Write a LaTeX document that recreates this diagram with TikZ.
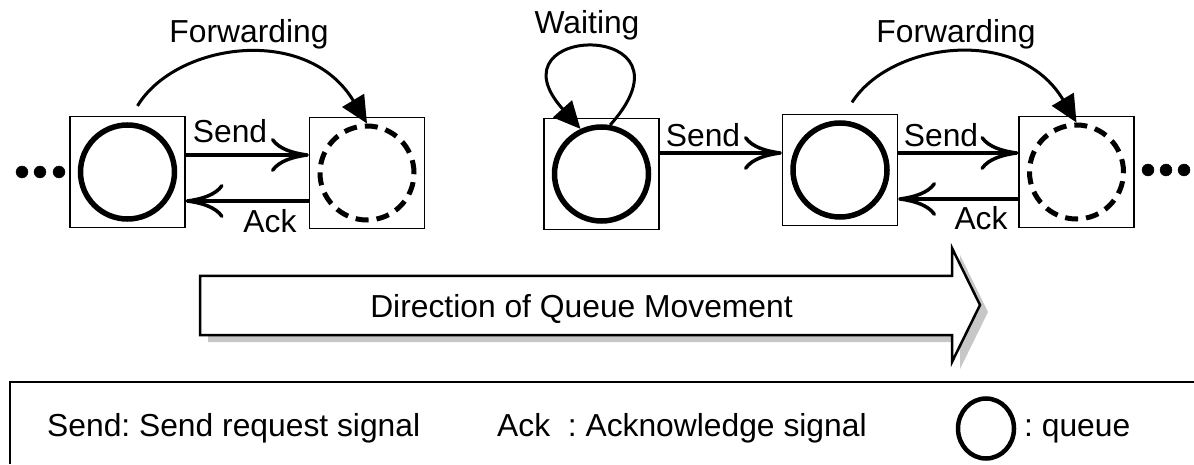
\documentclass[tikz,border=0pt]{standalone}
\usepackage{fontspec}
\setmainfont{Liberation Sans}
\usepackage{tikz}
\usetikzlibrary{shapes,arrows.meta}

\tikzset{
  cell/.style={draw, line width=1.2pt, minimum width=115pt, minimum height=111pt, inner sep=0pt},
  queue/.style={circle, draw, line width=5.5pt, minimum size=94pt, inner sep=0pt},
  ghost/.style={queue, line width=5pt, dash pattern=on 13pt off 8pt},
  sig/.style={line width=3.5pt, -{Computer Modern Rightarrow[length=38pt, width=34pt, line width=3.5pt]}},
  fwd/.style={line width=3pt, -{Triangle[length=27pt, width=25pt]}},
  lbl/.style={anchor=base, inner sep=0pt, font=\fontsize{31.8}{38}\selectfont}
}
\frenchspacing

\begin{document}
\begin{tikzpicture}[x=1pt, y=1pt]
\useasboundingbox (0,0) rectangle (1194,464);
% cells and queues
\node[cell] (c1) at (127.5,292) {};
\node[cell] (c2) at (367,291) {};
\node[cell] (c3) at (601.5,290) {};
\node[cell] (c4) at (840,294) {};
\node[cell] (c5) at (1076.5,292) {};
\node[queue] (q1) at (c1) {};
\node[ghost] (q2) at (c2) {};
\node[queue] (q3) at (c3) {};
\node[queue] (q4) at (c4) {};
\node[ghost] (q5) at (c5) {};
\foreach \x in {22,40,59} \filldraw[black] (\x,292) circle (6);
\foreach \x in {1148,1166,1184} \filldraw[black] (\x,294) circle (6);
% signals
\draw[sig] ([yshift=17pt]c1.east) -- ([yshift=17pt]c1.east -| c2.west);
\draw[sig] ([yshift=-28pt]c2.west) -- ([yshift=-28pt]c2.west -| c1.east);
\draw[sig] ([yshift=21pt]c3.east) -- ([yshift=21pt]c3.east -| c4.west);
\draw[sig] ([yshift=17pt]c4.east) -- ([yshift=17pt]c4.east -| c5.west);
\draw[sig] ([yshift=-27pt]c5.west) -- ([yshift=-27pt]c5.west -| c4.east);
% forwarding and waiting
\draw[fwd] ([shift={(10pt,10pt)}]c1.north) .. controls +(38,63) and +(-60,100) .. (q2.north);
\draw[fwd] ([shift={(12pt,11.5pt)}]c4.north) .. controls +(38,60) and +(-58,98) .. (q5.north);
\draw[fwd] (q3.80) .. controls +(95,106) and +(-95,106) .. (q3.115);
\node[lbl] (fw1) at (249,421) {Forwarding};
\node[lbl] (fw2) at (956,421) {Forwarding};
\node[lbl] (wt) at (587,430) {Waiting};
\node[lbl] (sd1) at (230,321) {Send};
\node[lbl] (sd2) at (703,317) {Send};
\node[lbl] (sd3) at (941,317) {Send};
\node[lbl] (ak1) at (270,231) {Ack};
\node[lbl] (ak2) at (981,234) {Ack};
% direction arrow
\fill[black!22, shift={(8,-7)}] (200,188) -- (952,188) -- (952,216) -- (980,159) -- (952,102) -- (952,129) -- (200,129) -- cycle;
\filldraw[fill=white, line width=2.5pt] (200,188) -- (952,188) -- (952,216) -- (980,159) -- (952,102) -- (952,129) -- (200,129) -- cycle;
\node[lbl] (dir) at (581.5,147) {Direction of Queue Movement};
% legend
\draw[line width=2pt] (10,0) -- (10,82) -- (1194,82);
\node[lbl, anchor=base west] (k1) at (47,28) {Send: Send request signal};
\node[lbl, anchor=base west] (k2) at (497,28) {Ack\ \ : Acknowledge signal};
\node[ellipse, draw, line width=4.5pt, minimum width=56pt, minimum height=60pt, inner sep=0pt] (key) at (986,35.5) {};
\node[lbl, anchor=base west] (k3) at (1024,28) {: queue};
\end{tikzpicture}
\end{document}
